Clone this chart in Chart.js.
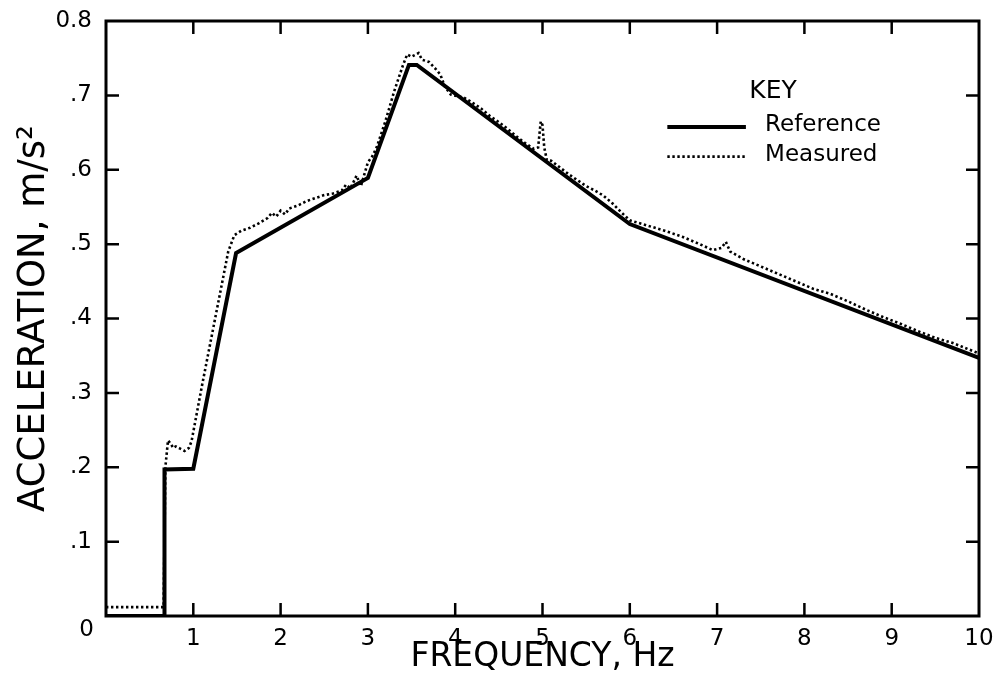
<!DOCTYPE html>
<html>
<head>
<meta charset="utf-8">
<script src="https://cdn.jsdelivr.net/npm/chart.js@4/dist/chart.umd.min.js"></script>
<style>
html,body{margin:0;padding:0;background:#fff;}
canvas{display:block;}
</style>
</head>
<body>
<canvas id="c" width="996" height="688"></canvas>
<script>
// Reference (target) spectrum
const refFreq = [0, 0.67, 0.67, 1.0, 1.49, 3.0, 3.47, 3.56, 6.0, 10.0];
const refAcc  = [0, 0, 0.197, 0.198, 0.488, 0.589, 0.741, 0.741, 0.527, 0.347];

// Measured spectrum
const measFreq = [0, 0.66, 0.68, 0.71, 0.74, 0.77, 0.80, 0.85, 0.90, 0.95, 0.98, 1.02, 1.1, 1.2, 1.3, 1.4, 1.47,
  1.55, 1.65, 1.75, 1.85, 1.9, 1.95, 2.0, 2.05, 2.1, 2.2, 2.3, 2.4, 2.5, 2.6, 2.7, 2.75, 2.8, 2.87, 2.92,
  3.0, 3.05, 3.1, 3.2, 3.3, 3.4, 3.45, 3.5, 3.58, 3.62, 3.7, 3.78, 3.83, 3.88, 3.95, 4.02, 4.1, 4.2, 4.3,
  4.4, 4.5, 4.6, 4.7, 4.8, 4.9, 4.95, 4.98, 5.0, 5.02, 5.05, 5.1, 5.2, 5.3, 5.4, 5.5, 5.6, 5.7, 5.8, 5.9,
  6.0, 6.2, 6.4, 6.6, 6.8, 6.95, 7.05, 7.1, 7.15, 7.3, 7.5, 7.7, 7.9, 8.1, 8.3, 8.5, 8.7, 8.9, 9.1, 9.3,
  9.5, 9.7, 9.85, 10.0];
const measAcc = [0.012, 0.012, 0.2, 0.236, 0.232, 0.226, 0.228, 0.225, 0.222, 0.226, 0.235, 0.26, 0.31, 0.37, 0.43, 0.49, 0.512,
  0.518, 0.522, 0.528, 0.535, 0.542, 0.537, 0.545, 0.54, 0.548, 0.552, 0.558, 0.562, 0.566, 0.568, 0.572, 0.58, 0.575, 0.592, 0.578,
  0.61, 0.618, 0.63, 0.665, 0.705, 0.74, 0.755, 0.752, 0.757, 0.748, 0.745, 0.735, 0.728, 0.712, 0.701, 0.699, 0.697, 0.69, 0.682,
  0.672, 0.664, 0.655, 0.645, 0.636, 0.628, 0.63, 0.665, 0.66, 0.63, 0.613, 0.612, 0.603, 0.594, 0.586, 0.578, 0.572, 0.565, 0.555, 0.543,
  0.532, 0.525, 0.518, 0.51, 0.5, 0.492, 0.495, 0.503, 0.49, 0.48, 0.47, 0.46, 0.45, 0.44, 0.433, 0.423, 0.412, 0.402, 0.393, 0.383,
  0.374, 0.367, 0.36, 0.353];

const seriesNames = ['Reference', 'Measured'];
const legendTitle = 'KEY';
const xTitle = 'FREQUENCY, Hz';
const yTitle = 'ACCELERATION, m/s\u00B2';

const FONT = "'DejaVu Sans', sans-serif";

const framePlugin = {
  id: 'frame',
  beforeDraw(chart) {
    const ctx = chart.ctx;
    ctx.save();
    ctx.fillStyle = '#fff';
    ctx.fillRect(0, 0, chart.width, chart.height);
    ctx.restore();
  },
  afterDraw(chart) {
    const {ctx, chartArea: a, scales} = chart;
    ctx.save();
    ctx.strokeStyle = '#000';
    ctx.lineWidth = 3;
    ctx.strokeRect(a.left, a.top, a.right - a.left, a.bottom - a.top);
    ctx.lineWidth = 2.5;
    const tl = 13;
    ctx.beginPath();
    scales.x.ticks.forEach(t => {
      if (t.value <= 0 || t.value >= 10) return;
      const px = scales.x.getPixelForValue(t.value);
      ctx.moveTo(px, a.bottom); ctx.lineTo(px, a.bottom - tl);
      ctx.moveTo(px, a.top); ctx.lineTo(px, a.top + tl);
    });
    scales.y.ticks.forEach(t => {
      if (t.value <= 0 || t.value >= 0.8) return;
      const py = scales.y.getPixelForValue(t.value);
      ctx.moveTo(a.left, py); ctx.lineTo(a.left + tl, py);
      ctx.moveTo(a.right, py); ctx.lineTo(a.right - tl, py);
    });
    ctx.stroke();
    // origin label
    ctx.fillStyle = '#000';
    ctx.font = '23px ' + FONT;
    ctx.textAlign = 'right';
    ctx.textBaseline = 'middle';
    ctx.fillText('0', a.left - 12, a.bottom + 14);

    // key
    const w = a.right - a.left, h = a.bottom - a.top;
    ctx.textAlign = 'center';
    ctx.font = '25px ' + FONT;
    ctx.fillText(legendTitle, a.left + 0.764 * w, a.top + 0.118 * h);
    ctx.font = '23px ' + FONT;
    ctx.textAlign = 'left';
    const x0 = a.left + 0.643 * w, x1 = a.left + 0.733 * w, xt = a.left + 0.755 * w;
    const ys = [a.top + 0.178 * h, a.top + 0.228 * h];
    chart.data.datasets.forEach((ds, i) => {
      ctx.save();
      ctx.strokeStyle = ds.borderColor;
      ctx.lineWidth = ds.borderWidth;
      ctx.setLineDash(ds.borderDash || []);
      ctx.beginPath();
      ctx.moveTo(x0, ys[i]); ctx.lineTo(x1, ys[i]);
      ctx.stroke();
      ctx.restore();
      ctx.fillText(ds.label, xt, ys[i] - 2);
    });
    ctx.restore();
  }
};

new Chart(document.getElementById('c'), {
  type: 'line',
  data: {
    datasets: [
      {
        label: seriesNames[0],
        data: refFreq.map((f, i) => ({x: f, y: refAcc[i]})),
        borderColor: '#000',
        borderWidth: 4,
        pointRadius: 0,
        tension: 0,
        borderJoinStyle: 'miter'
      },
      {
        label: seriesNames[1],
        data: measFreq.map((f, i) => ({x: f, y: measAcc[i]})),
        borderColor: '#000',
        borderWidth: 2.6,
        borderDash: [2.4, 2.6],
        pointRadius: 0,
        tension: 0
      }
    ]
  },
  options: {
    responsive: false,
    animation: false,
    layout: {padding: {top: 21, right: 17, left: 0, bottom: 0}},
    plugins: {legend: {display: false}, tooltip: {enabled: false}},
    scales: {
      x: {
        type: 'linear', min: 0, max: 10,
        grid: {display: false, drawTicks: false},
        border: {display: false},
        ticks: {
          stepSize: 1, color: '#000', padding: 9,
          font: {family: FONT, size: 23},
          callback: v => v === 0 ? '' : String(v)
        },
        title: {display: true, text: xTitle, color: '#000',
          font: {family: FONT, size: 33}, padding: {top: 4, bottom: 11}},
        afterFit: s => { s.height = 72; s.paddingLeft = 0; s.paddingRight = 0; }
      },
      y: {
        type: 'linear', min: 0, max: 0.8,
        grid: {display: false, drawTicks: false},
        border: {display: false},
        ticks: {
          stepSize: 0.1, color: '#000', padding: 14,
          font: {family: FONT, size: 23},
          callback: v => {
            const r = Math.round(v * 10);
            if (r === 0) return '';
            if (r === 8) return '0.8';
            return '.' + r;
          }
        },
        title: {display: true, text: yTitle, color: '#000',
          font: {family: FONT, size: 37}, padding: {top: 12, bottom: 4}},
        afterFit: s => { s.width = 106; s.paddingTop = 0; s.paddingBottom = 0; }
      }
    }
  },
  plugins: [framePlugin]
});
</script>
</body>
</html>
